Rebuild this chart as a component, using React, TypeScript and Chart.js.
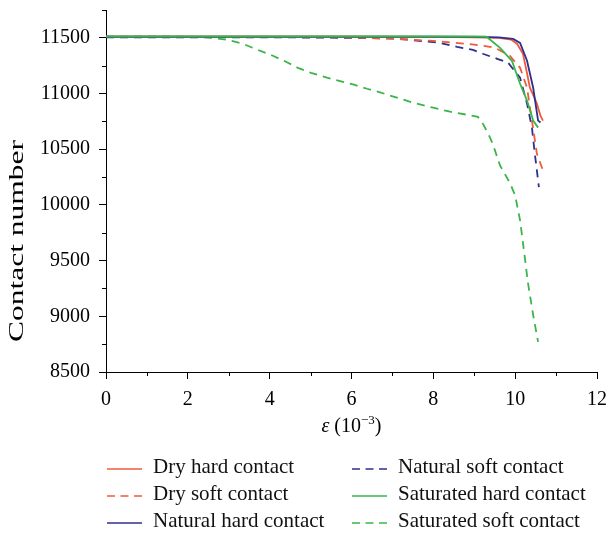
import React, { useEffect, useRef } from "react";
import { Chart, registerables } from "chart.js";

Chart.register(...registerables);

// ---- Data ----
const dryHardX = [0, 2, 4, 6, 8, 9, 9.6, 9.9, 10.05, 10.19, 10.28, 10.36, 10.45, 10.53, 10.62, 10.68];
const dryHardY = [11510, 11510, 11510, 11510, 11508, 11505, 11500, 11485, 11445, 11357, 11200, 11052, 10980, 10909, 10800, 10757];

const drySoftX = [0, 2, 4, 6, 7, 8, 9, 9.5, 9.87, 10.12, 10.29, 10.41, 10.53, 10.68];
const drySoftY = [11508, 11508, 11508, 11503, 11493, 11472, 11440, 11412, 11339, 11231, 11052, 10757, 10461, 10309];

const naturalHardX = [0, 2, 4, 6, 8, 9, 9.6, 9.95, 10.12, 10.29, 10.44, 10.56, 10.62];
const naturalHardY = [11510, 11510, 11510, 11510, 11510, 11508, 11505, 11490, 11455, 11294, 11052, 10757, 10740];

const naturalSoftX = [0, 2, 4, 6, 7, 7.43, 8.16, 8.58, 8.97, 9.21, 9.56, 9.82, 10.12, 10.29, 10.41, 10.48, 10.58];
const naturalSoftY = [11505, 11505, 11505, 11500, 11494, 11482, 11455, 11419, 11392, 11357, 11312, 11280, 11142, 10909, 10694, 10461, 10160];

const saturatedHardX = [0, 2, 4, 6, 8, 9, 9.3, 9.63, 9.92, 10.12, 10.29, 10.44, 10.56];
const saturatedHardY = [11512, 11512, 11512, 11512, 11512, 11512, 11510, 11410, 11294, 11088, 10936, 10757, 10694];

const saturatedSoftX = [0, 1, 2, 2.5, 2.96, 3.35, 3.71, 4.08, 4.4, 4.69, 5.01, 5.4, 5.77, 6.06, 6.38, 6.7, 7.11, 7.5, 7.99, 8.41, 8.82, 9.09, 9.21, 9.34, 9.45, 9.63, 9.87, 10.0, 10.12, 10.22, 10.31, 10.44, 10.56];
const saturatedSoftY = [11510, 11510, 11510, 11505, 11482, 11446, 11392, 11339, 11285, 11231, 11186, 11142, 11106, 11079, 11043, 11010, 10963, 10918, 10873, 10837, 10810, 10790, 10730, 10640, 10550, 10354, 10199, 10085, 9861, 9575, 9306, 9010, 8770];

const xTickLabels = [0, 2, 4, 6, 8, 10, 12];
const yTickLabels = [8500, 9000, 9500, 10000, 10500, 11000, 11500];

const seriesNames = [
  "Dry hard contact",
  "Dry soft contact",
  "Natural hard contact",
  "Natural soft contact",
  "Saturated hard contact",
  "Saturated soft contact",
];

const RED = "#f05a3c";
const BLUE = "#2f2f8c";
const GREEN = "#3bb54a";
const DASH = [8, 6];
const FONT = '"Liberation Serif", "Times New Roman", serif';

const seriesStyle = [
  { color: RED, dash: [] as number[], order: 2 },
  { color: RED, dash: DASH, order: 4 },
  { color: BLUE, dash: [] as number[], order: 1 },
  { color: BLUE, dash: DASH, order: 5 },
  { color: GREEN, dash: [] as number[], order: 0 },
  { color: GREEN, dash: DASH, order: 3 },
];

const seriesX = [dryHardX, drySoftX, naturalHardX, naturalSoftX, saturatedHardX, saturatedSoftX];
const seriesY = [dryHardY, drySoftY, naturalHardY, naturalSoftY, saturatedHardY, saturatedSoftY];

const axisExtras = {
  id: "axisExtras",
  afterDraw(chart: any) {
    const { ctx, chartArea, scales } = chart;
    const xs = scales.x;
    const ys = scales.y;
    ctx.save();
    ctx.strokeStyle = "#000";
    ctx.lineWidth = 1;
    // minor ticks
    for (const t of ys.ticks) {
      if (t.value % 500 !== 0) {
        const py = Math.round(ys.getPixelForValue(t.value)) + 0.5;
        ctx.beginPath();
        ctx.moveTo(chartArea.left - 4, py);
        ctx.lineTo(chartArea.left, py);
        ctx.stroke();
      }
    }
    for (const t of xs.ticks) {
      if (t.value % 2 !== 0) {
        const px = Math.round(xs.getPixelForValue(t.value)) + 0.5;
        ctx.beginPath();
        ctx.moveTo(px, chartArea.bottom);
        ctx.lineTo(px, chartArea.bottom + 4);
        ctx.stroke();
      }
    }
    // y title
    ctx.fillStyle = "#000";
    ctx.save();
    ctx.translate(17.5, chartArea.bottom - 131);
    ctx.rotate(-Math.PI / 2);
    ctx.scale(1.5, 1);
    ctx.font = `21px ${FONT}`;
    ctx.textAlign = "center";
    ctx.textBaseline = "middle";
    ctx.fillText("Contact number", 0, 0);
    ctx.restore();
    // x title: ε (10^-3)
    const parts = [
      { t: "ε", font: `italic 20px ${FONT}`, dy: 0 },
      { t: " (10", font: `20px ${FONT}`, dy: 0 },
      { t: "−3", font: `13px ${FONT}`, dy: -8 },
      { t: ")", font: `20px ${FONT}`, dy: 0 },
    ];
    let total = 0;
    for (const p of parts) {
      ctx.font = p.font;
      total += ctx.measureText(p.t).width;
    }
    let cx = (chartArea.left + chartArea.right) / 2 - total / 2;
    const base = chartArea.bottom + 60;
    ctx.textAlign = "left";
    ctx.textBaseline = "alphabetic";
    for (const p of parts) {
      ctx.font = p.font;
      ctx.fillText(p.t, cx, base + p.dy);
      cx += ctx.measureText(p.t).width;
    }
    ctx.restore();
  },
};

export default function App() {
  const ref = useRef<HTMLCanvasElement | null>(null);

  useEffect(() => {
    if (!ref.current) return;
    const datasets = seriesNames.map((name, i) => ({
      label: name,
      data: seriesX[i].map((x, j) => ({ x, y: seriesY[i][j] })),
      borderColor: seriesStyle[i].color,
      backgroundColor: seriesStyle[i].color,
      borderWidth: 1.8,
      borderDash: seriesStyle[i].dash,
      pointRadius: 0,
      fill: false,
      tension: 0,
      order: seriesStyle[i].order,
    }));
    const chart = new Chart(ref.current, {
      type: "line",
      data: { datasets },
      options: {
        animation: false,
        responsive: false,
        devicePixelRatio: 1,
        layout: { padding: { left: 0, right: 10, top: 10, bottom: 96 } },
        plugins: { legend: { display: false }, tooltip: { enabled: false } },
        scales: {
          x: {
            type: "linear",
            min: 0,
            max: 12,
            ticks: {
              stepSize: 1,
              autoSkip: false,
              maxRotation: 0,
              padding: 9,
              color: "#000",
              font: { family: FONT, size: 20 },
              callback: (v: any) => (xTickLabels.includes(Number(v)) ? String(v) : ""),
            },
            grid: {
              drawOnChartArea: false,
              tickLength: 7,
              lineWidth: 1,
              color: (c: any) => (c.tick && c.tick.value % 2 === 0 ? "#000" : "rgba(0,0,0,0)"),
            },
            border: { display: true, color: "#000", width: 1 },
            afterFit: (s: any) => {
              s.height = 65;
              s.paddingLeft = 0;
              s.paddingRight = 0;
            },
          },
          y: {
            type: "linear",
            min: 8500,
            max: 11750,
            ticks: {
              stepSize: 250,
              autoSkip: false,
              padding: 9,
              color: "#000",
              font: { family: FONT, size: 20 },
              callback: (v: any) => (yTickLabels.includes(Number(v)) ? String(v) : ""),
            },
            grid: {
              drawOnChartArea: false,
              tickLength: 7,
              lineWidth: 1,
              color: (c: any) => (c.tick && c.tick.value % 500 === 0 ? "#000" : "rgba(0,0,0,0)"),
            },
            border: { display: true, color: "#000", width: 1 },
            afterFit: (s: any) => {
              s.width = 106;
              s.paddingTop = 0;
              s.paddingBottom = 0;
            },
          },
        },
      },
      plugins: [axisExtras],
    });
    return () => chart.destroy();
  }, []);

  const cols = [
    { lineX: 107, textX: 153 },
    { lineX: 352, textX: 398 },
  ];
  const rowY = [469, 496, 523];

  return (
    <div style={{ position: "fixed", left: 0, top: 0, width: 607, height: 533, background: "#fff" }}>
      <canvas ref={ref} width={607} height={533} style={{ position: "absolute", left: 0, top: 0 }} />
      {seriesNames.map((name, i) => {
        const col = cols[Math.floor(i / 3)];
        const y = rowY[i % 3];
        const st = seriesStyle[i];
        return (
          <React.Fragment key={name}>
            <svg
              width={36}
              height={6}
              style={{ position: "absolute", left: col.lineX, top: y - 3 }}
            >
              <line
                x1={0}
                y1={3}
                x2={35}
                y2={3}
                stroke={st.color}
                strokeWidth={1.5}
                strokeDasharray={st.dash.length ? "8 5.5" : undefined}
              />
            </svg>
            <span
              style={{
                position: "absolute",
                left: col.textX,
                top: y - 14.6,
                font: `21px ${FONT}`,
                lineHeight: "24px",
                color: "#111",
                whiteSpace: "nowrap",
              }}
            >
              {name}
            </span>
          </React.Fragment>
        );
      })}
    </div>
  );
}
